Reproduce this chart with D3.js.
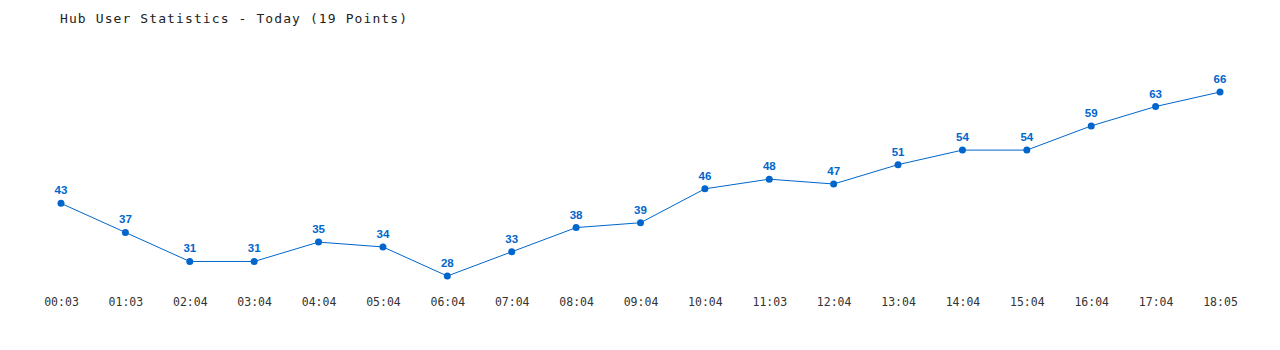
<!DOCTYPE html>
<html><head><meta charset="utf-8">
<script src="https://cdn.jsdelivr.net/npm/d3@7"></script>
<style>body{margin:0;background:#fff}svg{display:block}</style>
</head><body><svg id="c" width="1280" height="350"></svg>
<script>
const title = "Hub User Statistics - Today (19 Points)";
const times = ["00:03","01:03","02:04","03:04","04:04","05:04","06:04","07:04","08:04","09:04","10:04","11:03","12:04","13:04","14:04","15:04","16:04","17:04","18:05"];
const users = [43,37,31,31,35,34,28,33,38,39,46,48,47,51,54,54,59,63,66];

const svg = d3.select("#c");
const color = "#0066cc";
const x = d3.scalePoint().domain(times).range([61,1220]);
const y = d3.scaleLinear().domain([28,66]).range([276,92]);

svg.append("text").attr("x",60).attr("y",23)
  .attr("font-family","DejaVu Sans Mono, monospace").attr("font-size",13)
  .attr("letter-spacing",1.1).attr("fill","#222").text(title);

const xAxis = d3.axisBottom(x).tickSize(0).tickPadding(0);
const gx = svg.append("g").attr("transform","translate(0,298)").call(xAxis);
gx.select(".domain").remove();
gx.selectAll("text").attr("font-family","DejaVu Sans Mono, monospace").attr("font-size",11.5)
  .attr("fill","#333").attr("dy","0.71em");

const data = times.map((t,i)=>({t,v:users[i]}));
svg.append("path").datum(data)
  .attr("fill","none").attr("stroke",color).attr("stroke-width",1)
  .attr("d", d3.line().x(d=>x(d.t)).y(d=>y(d.v)));
svg.selectAll("circle.p").data(data).enter().append("circle")
  .attr("cx",d=>x(d.t)).attr("cy",d=>y(d.v)).attr("r",3.5).attr("fill",color);
svg.selectAll("text.v").data(data).enter().append("text")
  .attr("x",d=>x(d.t)).attr("y",d=>y(d.v)-9)
  .attr("text-anchor","middle").attr("font-family","Liberation Sans, Arial, sans-serif")
  .attr("font-weight","bold").attr("font-size",11.5).attr("fill",color).text(d=>d.v);
</script></body></html>
